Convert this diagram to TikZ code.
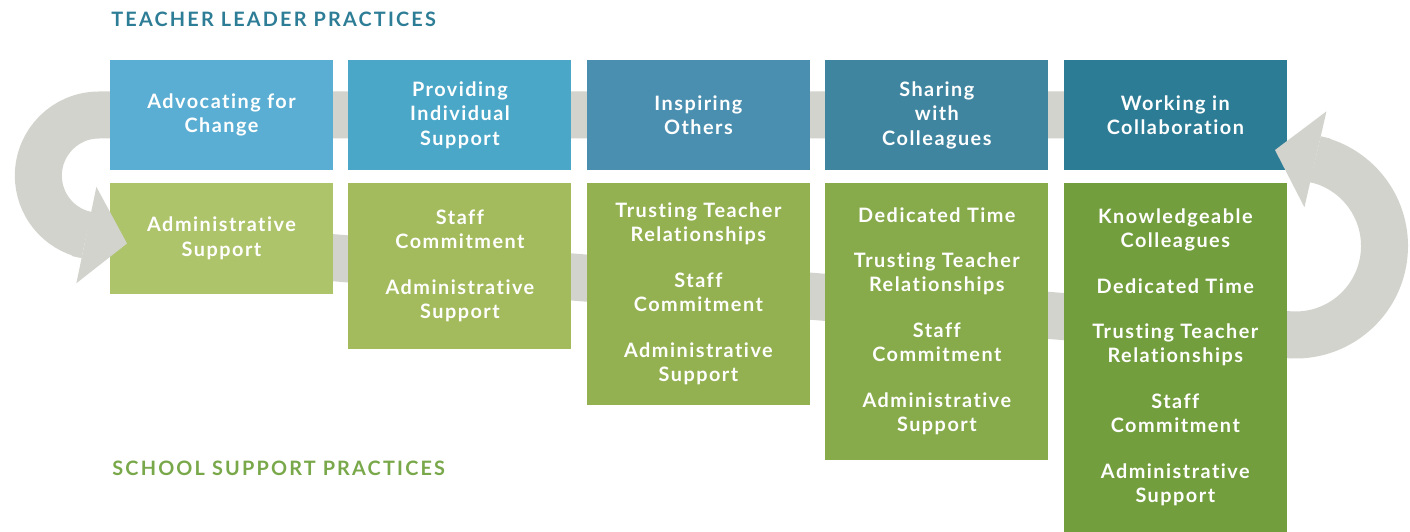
\documentclass[tikz,border=0pt]{standalone}
\usepackage{fontspec}
\setmainfont{Lato}[Ligatures=NoCommon]
\usetikzlibrary{positioning, arrows.meta, backgrounds}

\definecolor{lead1}{RGB}{91,174,211}
\definecolor{lead2}{RGB}{74,167,200}
\definecolor{lead3}{RGB}{74,143,176}
\definecolor{lead4}{RGB}{64,133,160}
\definecolor{lead5}{RGB}{45,124,149}
\definecolor{support1}{RGB}{174,196,106}
\definecolor{support2}{RGB}{163,187,92}
\definecolor{support3}{RGB}{148,177,82}
\definecolor{support4}{RGB}{135,170,74}
\definecolor{support5}{RGB}{115,158,61}
\definecolor{flowgray}{RGB}{211,211,206}
\definecolor{headteal}{RGB}{46,125,150}
\definecolor{headgreen}{RGB}{121,168,74}

\begin{document}
\begin{tikzpicture}[
        node distance=0.295cm,
        box/.style={
            rectangle,
            minimum width=4.46cm,
            text=white,
            align=center,
            inner sep=2pt,
            font=\fontsize{11.3}{13.9}\selectfont\bfseries\addfontfeatures{LetterSpace=7.5}
        },
        lead/.style={box, minimum height=2.2cm},
        support/.style={box, anchor=north},
        heading/.style={anchor=base west, inner sep=0pt,
            font=\fontsize{11.3}{13.9}\selectfont\bfseries\addfontfeatures{LetterSpace=11}},
        flow/.style={line width=0.94cm, draw=flowgray},
        flowtip/.style={flow, -{Triangle[length=0.83cm, width=1.97cm, line width=0pt]}}
    ]
    \useasboundingbox (0,0) rectangle (28.2,10.62);

    % Teacher leader row
    \node[lead, fill=lead1] (advocating) at (4.43,8.32) {Advocating for\\Change};
    \node[lead, fill=lead2, right=of advocating] (providing) {Providing\\Individual\\Support};
    \node[lead, fill=lead3, right=of providing] (inspiring) {Inspiring\\Others};
    \node[lead, fill=lead4, right=of inspiring] (sharing) {Sharing\\with\\Colleagues};
    \node[lead, fill=lead5, right=of sharing] (working) {Working in\\Collaboration};

    % School support row
    \node[support, fill=support1, minimum height=2.22cm, below=0.24cm of advocating] (adminA)
        {Administrative\\Support};
    \node[support, fill=support2, minimum height=3.32cm, below=0.24cm of providing] (adminB)
        {Staff\\Commitment\\[0.42cm]Administrative\\Support};
    \node[support, fill=support3, minimum height=4.44cm, below=0.24cm of inspiring] (adminC)
        {Trusting Teacher\\Relationships\\[0.42cm]Staff\\Commitment\\[0.42cm]Administrative\\Support};
    \node[support, fill=support4, minimum height=5.54cm, below=0.24cm of sharing] (adminD)
        {Dedicated Time\\[0.42cm]Trusting Teacher\\Relationships\\[0.42cm]Staff\\Commitment\\[0.42cm]Administrative\\Support};
    \node[support, fill=support5, minimum height=6.98cm, below=0.24cm of working] (adminE)
        {Knowledgeable\\Colleagues\\[0.42cm]Dedicated Time\\[0.42cm]Trusting Teacher\\Relationships\\[0.42cm]Staff\\Commitment\\[0.42cm]Administrative\\Support};

    % Headings
    \node[heading, text=headteal] (leadhead) at (2.22,10.08) {TEACHER LEADER PRACTICES};
    \node[heading, text=headgreen] (supporthead) at (2.24,1.12) {SCHOOL SUPPORT PRACTICES};

    % Flow arrows
    \coordinate (lbase) at (1.728,5.92);
    \coordinate (lback) at (1.53,5.96);
    \coordinate (ltip) at (2.54,5.75);
    \coordinate (rbase) at (26.31,7.434);
    \coordinate (rback) at (26.50,7.39);
    \coordinate (rtip) at (25.50,7.62);
    \begin{pgfonlayer}{background}
        \draw[flow] (working.center) -- (1.98,8.32)
            arc[start angle=90, end angle=258, radius=1.213cm];
        \draw[flow] ([yshift=-0.21cm]adminA.center) -- (25.755,3.927)
            arc[start angle=-95, end angle=77, radius=1.78cm];
    \end{pgfonlayer}
    \draw[flowtip] (lback) -- (ltip);
    \draw[flowtip] (rback) -- (rtip);

\end{tikzpicture}
\end{document}
